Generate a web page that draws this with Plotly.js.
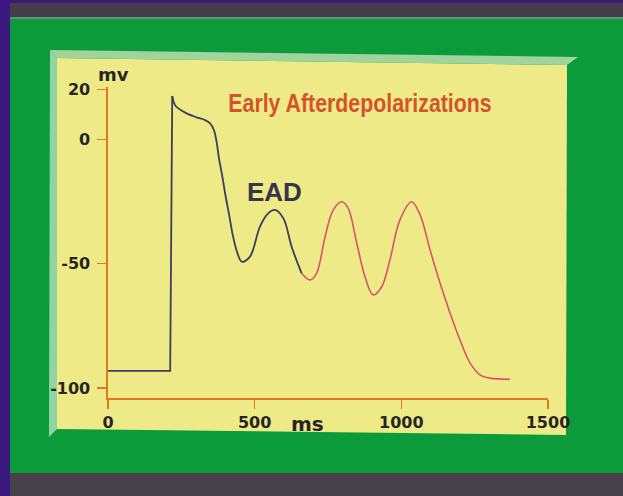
<!DOCTYPE html>
<html><head><meta charset="utf-8">
<script src="https://cdn.plot.ly/plotly-3.0.1.min.js"></script>
<style>html,body{margin:0;padding:0;background:#0b9b3b;overflow:hidden;} #chart{width:623px;height:496px;}</style>
</head><body><div id="chart"></div>
<script>
// ---- data (time in ms, membrane potential in mV) ----
const restUpTime = [0, 212, 219];
const restUpVolt = [-93.1, -93.1, 17.4];

const plateauTime = [219, 228, 240, 268, 302, 331, 348, 361, 371, 378, 389, 399, 413, 426, 440, 456, 484, 518, 546, 569, 598, 626, 660];
const plateauVolt = [17.4, 13.8, 12.4, 10.4, 8.8, 7.7, 6.4, 3.7, -1.6, -7.5, -14.4, -21.6, -30.4, -38.9, -45.3, -49.2, -47.2, -35.1, -29.8, -28.4, -31.8, -43.2, -53.9];

const eadTime = [660, 689, 711, 740, 768, 797, 819, 848, 876, 904, 933, 961, 995, 1035, 1064, 1098, 1132, 1166, 1200, 1234, 1268, 1302, 1370];
const eadVolt = [-53.9, -56.6, -53.9, -39.2, -28.4, -25.1, -27.8, -41.8, -55.2, -62.6, -59.3, -48.5, -32.5, -25.1, -30.4, -44.5, -57.8, -69.8, -80.7, -89.9, -94.7, -96.0, -96.5];

const xTickVals = [0, 500, 1000, 1500];
const xTickText = ['0', '500', '1000', '1500'];
const yTickVals = [20, 0, -50, -100];
const yTickText = ['20', '0', '-50', '-100'];

// ---- layout geometry (pixels) ----
const W = 623, H = 496;
const M = {l: 108, r: 75, t: 87, b: 98};
const PW = W - M.l - M.r, PH = H - M.t - M.b;
const px = x => (x - M.l) / PW;
const py = y => (H - M.b - y) / PH;
const path = pts => 'M' + pts.map(p => px(p[0]) + ',' + py(p[1])).join(' L') + ' Z';
const rect = (x0, y0, x1, y1, c) => ({type: 'rect', xref: 'paper', yref: 'paper', layer: 'below',
  x0: px(x0), x1: px(x1), y0: py(y1), y1: py(y0), fillcolor: c, line: {width: 0}});
const poly = (pts, c) => ({type: 'path', xref: 'paper', yref: 'paper', layer: 'below',
  path: path(pts), fillcolor: c, line: {width: 0}});

const AXIS = '#e2781f';
const tickFont = {family: 'DejaVu Sans, Verdana, sans-serif', size: 16, color: '#262626', weight: 700};

const traces = [
  {x: restUpTime, y: restUpVolt, mode: 'lines', line: {color: '#3c3f5c', width: 1.8}, hoverinfo: 'skip'},
  {x: plateauTime, y: plateauVolt, mode: 'lines', line: {color: '#3c3f5c', width: 1.8, shape: 'spline', smoothing: 1}, hoverinfo: 'skip'},
  {x: eadTime, y: eadVolt, mode: 'lines', line: {color: '#d9546a', width: 1.6, shape: 'spline', smoothing: 1}, hoverinfo: 'skip'}
];

const layout = {
  width: W, height: H,
  margin: M,
  showlegend: false,
  paper_bgcolor: '#0b9b3b',
  plot_bgcolor: 'rgba(0,0,0,0)',
  title: {
    text: 'Early Afterdepolarizations',
    font: {family: 'Liberation Sans, Arial, sans-serif', size: 26, color: '#d5532c', weight: 700},
    xref: 'container', yref: 'container',
    x: 360 / W, xanchor: 'center',
    y: 1 - 103 / H, yanchor: 'middle'
  },
  xaxis: {
    range: [0, 1500], showgrid: false, zeroline: false,
    showline: true, linecolor: AXIS, linewidth: 1.6,
    ticks: 'outside', ticklen: 9, tickwidth: 1.4, tickcolor: AXIS,
    tickvals: xTickVals, ticktext: xTickText, tickfont: tickFont,
    ticklabelstandoff: 0, fixedrange: true
  },
  yaxis: {
    range: [-104, 21], showgrid: false, zeroline: false,
    showline: true, linecolor: AXIS, linewidth: 1.6,
    ticks: 'outside', ticklen: 9, tickwidth: 1.4, tickcolor: AXIS,
    tickvals: yTickVals, ticktext: yTickText, tickfont: tickFont,
    ticklabelstandoff: 4, fixedrange: true
  },
  shapes: [
    rect(0, 0, 10, 496, '#3b1780'),
    rect(10, 0, 623, 17, '#433e4a'),
    rect(10, 0, 623, 3, '#3d1b72'),
    rect(10, 17, 623, 19, '#6a8e77'),
    rect(10, 473, 623, 496, '#46414b'),
    poly([[57, 58], [567, 65], [566, 435], [57, 429]], '#efea88'),
    poly([[50, 50], [578, 57], [567, 65], [57, 58]], '#9fd49c'),
    poly([[50, 50], [57, 58], [57, 429], [49, 437]], '#8fd4a2')
  ],
  annotations: [
    {text: 'EAD', xref: 'paper', yref: 'paper', x: px(274), y: py(192), xanchor: 'center', yanchor: 'middle', showarrow: false,
     font: {family: 'Liberation Sans, Arial, sans-serif', size: 26, color: '#33354a', weight: 700}},
    {text: 'mv', xref: 'paper', yref: 'paper', x: px(113), y: py(75), xanchor: 'center', yanchor: 'middle', showarrow: false,
     font: {family: 'DejaVu Sans, Verdana, sans-serif', size: 18, color: '#262626', weight: 700}},
    {text: 'ms', xref: 'paper', yref: 'paper', x: px(307), y: py(424), xanchor: 'center', yanchor: 'middle', showarrow: false,
     font: {family: 'DejaVu Sans, Verdana, sans-serif', size: 20, color: '#262626', weight: 700}}
  ]
};

Plotly.newPlot('chart', traces, layout, {displayModeBar: false, staticPlot: true}).then(() => {
  // condensed look of the title (narrow bold face)
  const t = document.querySelector('.gtitle');
  if (t) {
    const cx = parseFloat(t.getAttribute('x')) || 360;
    t.setAttribute('transform', `translate(${cx},0) scale(0.82,1) translate(${-cx},0)`);
  }
});
</script>
</body></html>
